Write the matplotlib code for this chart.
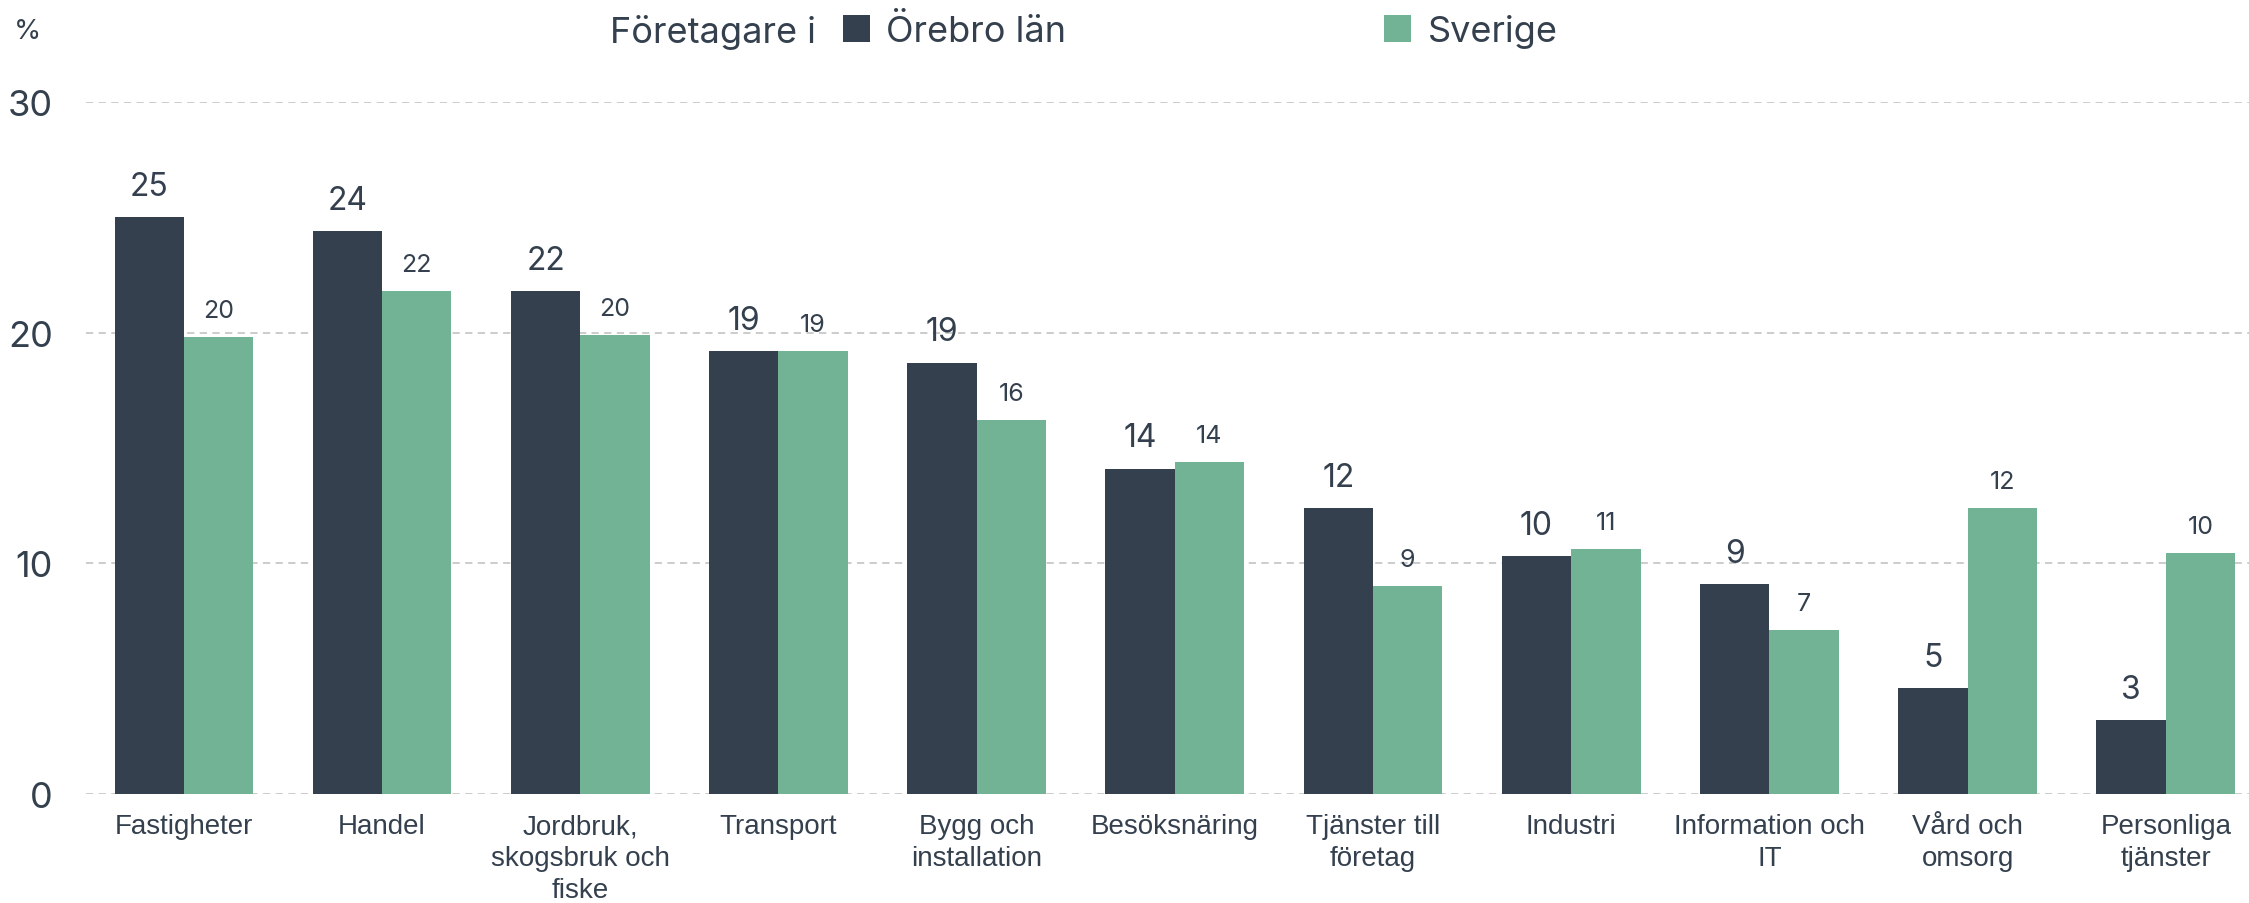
import matplotlib
matplotlib.use("Agg")
import matplotlib.pyplot as plt
import numpy as np

categories = ["Fastigheter", "Handel", "Jordbruk,\nskogsbruk och\nfiske", "Transport",
              "Bygg och\ninstallation", "Besöksnäring", "Tjänster till\nföretag", "Industri",
              "Information och\nIT", "Vård och\nomsorg", "Personliga\ntjänster"]
orebro = [25.0, 24.4, 21.8, 19.2, 18.7, 14.1, 12.4, 10.3, 9.1, 4.6, 3.2]
sverige = [19.8, 21.8, 19.9, 19.2, 16.2, 14.4, 9.0, 10.6, 7.1, 12.4, 10.45]
series_names = ["Örebro län", "Sverige"]
yticks = [0, 10, 20, 30]

DARK = "#34404e"
GREEN = "#72b396"
TXT = "#34404e"
FONT_NUM = ["Inter", "DejaVu Sans"]
FONT_CAT = ["Liberation Sans", "DejaVu Sans"]

fig = plt.figure(figsize=(22.49, 9.04), dpi=100)
ax = fig.add_axes([86/2249, 1-795/904, 1-86/2249, (795-103)/904])

x = np.arange(len(categories))
w = 0.35
b1 = ax.bar(x - w/2, orebro, w, color=DARK, zorder=3, label=series_names[0])
b2 = ax.bar(x + w/2, sverige, w, color=GREEN, zorder=3, label=series_names[1])

for rect, v in zip(b1, orebro):
    ax.annotate(f"{round(v):d}", (rect.get_x()+rect.get_width()/2, v), xytext=(0, 11),
                textcoords="offset points", ha="center", va="bottom", fontsize=23,
                color=TXT, family=FONT_NUM)
for rect, v in zip(b2, sverige):
    ax.annotate(f"{round(v):d}", (rect.get_x()+rect.get_width()/2, v), xytext=(0, 11),
                textcoords="offset points", ha="center", va="bottom", fontsize=18,
                color=TXT, family=FONT_NUM)

ax.set_xlim(-0.494, 10.42)
ax.set_ylim(0, 30)
ax.set_yticks(yticks)
ax.set_yticklabels([str(t) for t in yticks], fontsize=26, color=TXT, family=FONT_NUM)
ax.set_xticks(x)
ax.set_xticklabels(categories, fontsize=20, color=TXT, family=FONT_CAT, linespacing=1.3)
ax.tick_params(axis="y", length=0, pad=24)
ax.tick_params(axis="x", length=0, pad=14)
for s in ax.spines.values():
    s.set_visible(False)
ax.yaxis.grid(True, color="#c8c8c8", linestyle=(0, (4, 3)), linewidth=1.3, zorder=0)
ax.set_axisbelow(True)

fig.text(14/2249, 1-32/904, "%", fontsize=20, color=TXT, family=FONT_NUM, ha="left", va="center")
fig.text(610/2249, 1-32/904, "Företagare i", fontsize=26, color=TXT, family=FONT_NUM,
         ha="left", va="center")
leg = fig.legend(handles=[b1, b2], labels=series_names, ncol=2, frameon=False,
                 loc="center left", bbox_to_anchor=(843/2249, 1-32/904),
                 bbox_transform=fig.transFigure, borderpad=0, borderaxespad=0,
                 handlelength=0.75, handleheight=0.75, handletextpad=0.45,
                 columnspacing=8.8, prop={"family": FONT_NUM, "size": 26})
for t in leg.get_texts():
    t.set_color(TXT)

fig.savefig("out.png", dpi=100, facecolor="white")
